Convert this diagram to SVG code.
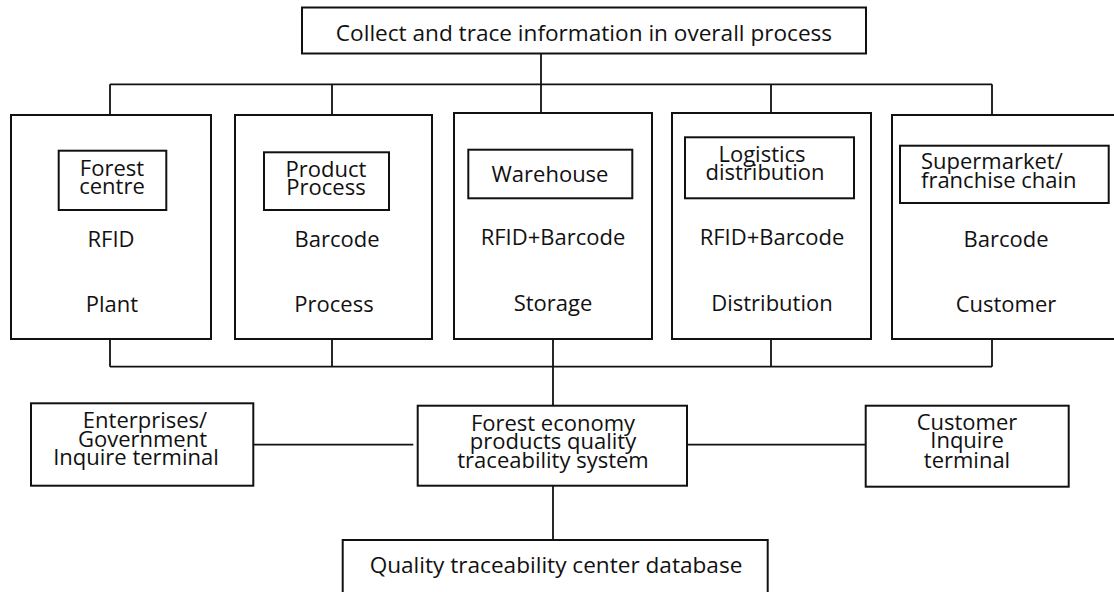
<svg xmlns="http://www.w3.org/2000/svg" width="1114" height="592" viewBox="0 0 1114 592">
<style>
.box{fill:#fff;stroke:#111;stroke-width:2}
.ln{fill:none;stroke:#111;stroke-width:1.8}
text{font-family:"Open Sans","Liberation Sans",sans-serif;font-size:22px;fill:#111;text-anchor:middle}
.l{text-anchor:start}
.big{font-size:22.6px}
</style>
<rect width="1114" height="592" fill="#fff"/>
<g id="connectors">
<path class="ln" d="M541 53.7V113"/>
<path class="ln" d="M110 84.3H992M110 84.3V115M332 84.3V115M771 84.3V113M992 84.3V115"/>
<path class="ln" d="M110 339V366.7M332 339V366.7M553 339V366.7M771 339V366.7M992 339V366.7M110 366.7H992"/>
<path class="ln" d="M553 366.7V405.7"/>
<path class="ln" d="M553 485.7V540"/>
<path class="ln" d="M253.3 444.7H413.3"/>
<path class="ln" d="M681.7 444.7H865.7"/>
</g>
<g id="top">
<rect class="box" x="302" y="7.5" width="564" height="46"/>
<text class="big" x="584" y="41">Collect and trace information in overall process</text>
</g>
<g id="forest">
<rect class="box" x="11" y="115" width="200" height="224"/>
<rect class="box" x="58.7" y="150.7" width="107.6" height="59.3"/>
<text x="112" y="176">Forest</text>
<text x="112" y="194">centre</text>
<text x="111" y="246.5">RFID</text>
<text x="112" y="312">Plant</text>
</g>
<g id="product">
<rect class="box" x="235" y="115" width="197" height="224"/>
<rect class="box" x="264" y="152.3" width="125" height="57.7"/>
<text x="326" y="176.5">Product</text>
<text x="326" y="195">Process</text>
<text x="337" y="246.5">Barcode</text>
<text x="334" y="311.5">Process</text>
</g>
<g id="warehouse">
<rect class="box" x="454" y="113" width="198" height="226"/>
<rect class="box" x="468.3" y="149.7" width="164" height="48.6"/>
<text x="550" y="182">Warehouse</text>
<text x="553" y="244.5">RFID+Barcode</text>
<text x="553" y="311">Storage</text>
</g>
<g id="logistics">
<rect class="box" x="672" y="113" width="199" height="226"/>
<rect class="box" x="685" y="137.3" width="169" height="61"/>
<text x="762" y="162">Logistics</text>
<text x="765" y="180">distribution</text>
<text x="772" y="244.5">RFID+Barcode</text>
<text x="772" y="311">Distribution</text>
</g>
<g id="supermarket">
<rect class="box" x="892" y="115" width="230" height="224"/>
<rect class="box" x="900" y="145.7" width="208.7" height="57.3"/>
<text class="l" x="921" y="169">Supermarket/</text>
<text class="l" x="921" y="188">franchise chain</text>
<text x="1006" y="247">Barcode</text>
<text x="1006" y="312">Customer</text>
</g>
<g id="enterprises">
<rect class="box" x="31" y="403.3" width="222.3" height="82.4"/>
<text x="145" y="428">Enterprises/</text>
<text x="142.5" y="447">Government</text>
<text x="136" y="465">Inquire terminal</text>
</g>
<g id="system">
<rect class="box" x="417.7" y="405.7" width="269.3" height="80"/>
<text x="553" y="431">Forest economy</text>
<text x="553" y="449">products quality</text>
<text x="553" y="468">traceability system</text>
</g>
<g id="customer">
<rect class="box" x="865.7" y="405.7" width="203" height="81"/>
<text x="967" y="430">Customer</text>
<text x="967" y="448">Inquire</text>
<text x="967" y="468">terminal</text>
</g>
<g id="database">
<rect class="box" x="342.7" y="540" width="425" height="70"/>
<text class="big" x="556" y="573">Quality traceability center database</text>
</g>
</svg>
